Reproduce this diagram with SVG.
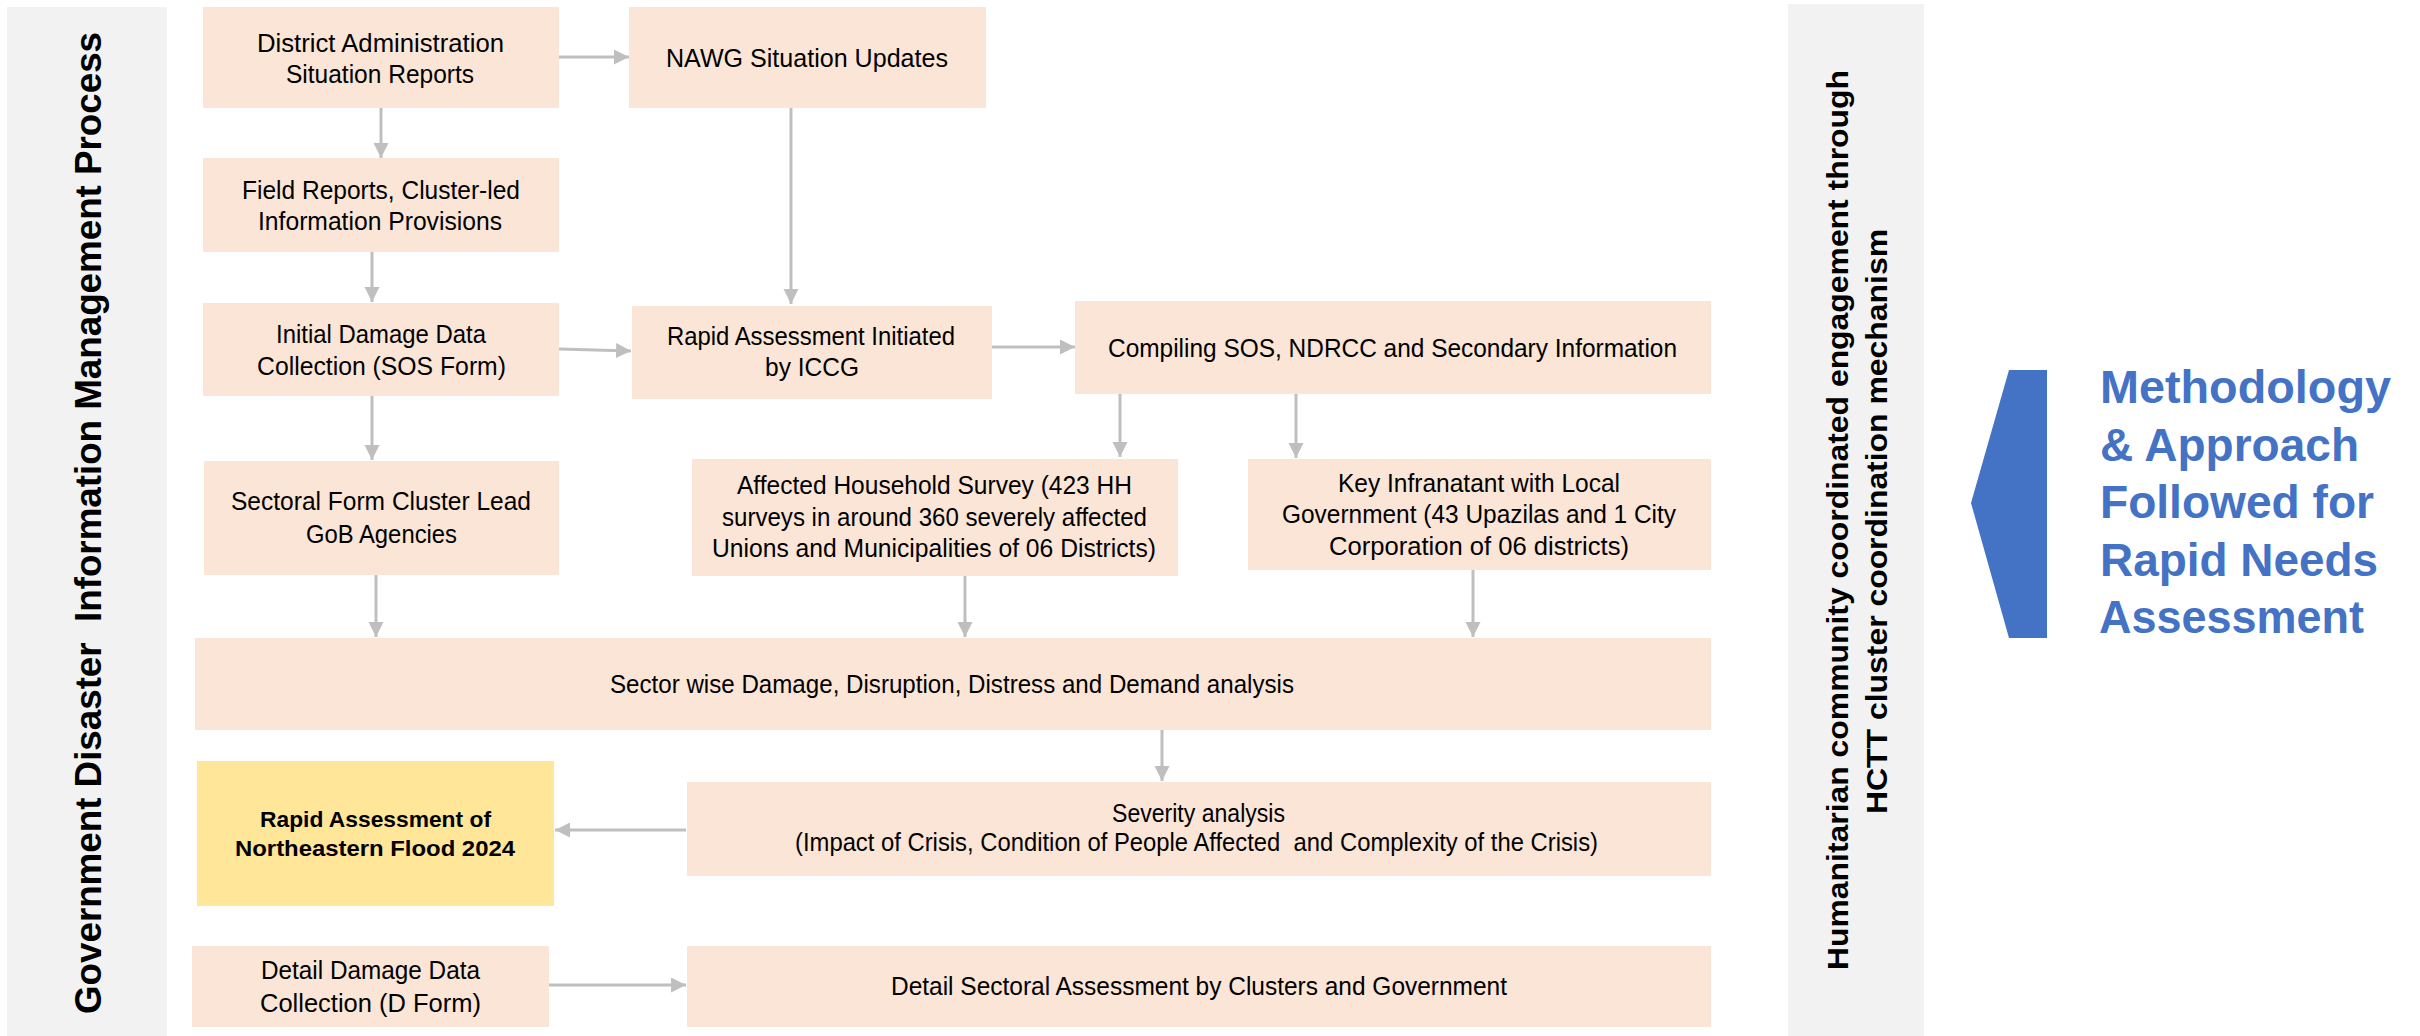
<svg xmlns="http://www.w3.org/2000/svg" width="2420" height="1036" viewBox="0 0 2420 1036">
<style>
.panel{fill:#F2F2F2}
.box{fill:#FBE5D6}
.hl{fill:#FFE699}
.t{font-family:"Liberation Sans",Arial,sans-serif;font-size:25px;fill:#000}
.tb{font-family:"Liberation Sans",Arial,sans-serif;font-size:22px;font-weight:bold;fill:#000}
.side{font-family:"Liberation Sans",Arial,sans-serif;font-weight:bold;fill:#000}
.meth{font-family:"Liberation Sans",Arial,sans-serif;font-size:46px;font-weight:bold;fill:#4472C4}
.conn{stroke:#BFBFBF;stroke-width:3;fill:none;marker-end:url(#arr)}
</style>
<defs>
<marker id="arr" markerUnits="userSpaceOnUse" markerWidth="16" markerHeight="16" refX="15" refY="7.5" orient="auto">
<path d="M0,0 L15,7.5 L0,15 z" fill="#BFBFBF"/>
</marker>
</defs>
<rect width="2420" height="1036" fill="#FFFFFF"/>

<g id="gov-panel">
<rect class="panel" x="7" y="7" width="160" height="1029"/>
<text class="side" font-size="37" xml:space="preserve" transform="translate(101,1014) rotate(-90)" textLength="982" lengthAdjust="spacingAndGlyphs">Government Disaster  Information Management Process</text>
</g>

<g id="hum-panel">
<rect class="panel" x="1788" y="4" width="136" height="1032"/>
<text class="side" font-size="30" transform="translate(1848,970) rotate(-90)" textLength="900" lengthAdjust="spacingAndGlyphs">Humanitarian community coordinated engagement through</text>
<text class="side" font-size="30" transform="translate(1887,814) rotate(-90)" textLength="585" lengthAdjust="spacingAndGlyphs">HCTT cluster coordination mechanism</text>
</g>

<g id="methodology">
<polygon points="2009,370 2047,370 2047,638 2009,638 1971,503" fill="#4472C4"/>
<text class="meth" x="2100" y="403" textLength="291" lengthAdjust="spacingAndGlyphs">Methodology</text>
<text class="meth" x="2100" y="461" textLength="259" lengthAdjust="spacingAndGlyphs">&amp; Approach</text>
<text class="meth" x="2100" y="518" textLength="274" lengthAdjust="spacingAndGlyphs">Followed for</text>
<text class="meth" x="2100" y="576" textLength="278" lengthAdjust="spacingAndGlyphs">Rapid Needs</text>
<text class="meth" x="2099" y="633" textLength="265" lengthAdjust="spacingAndGlyphs">Assessment</text>
</g>

<g id="connectors">
<path class="conn" d="M559,57 L629,57"/>
<path class="conn" d="M381,108 L381,158"/>
<path class="conn" d="M372,252 L372,302"/>
<path class="conn" d="M791,108 L791,304"/>
<path class="conn" d="M559,349 L631,351"/>
<path class="conn" d="M992,347 L1075,347"/>
<path class="conn" d="M372,396 L372,460"/>
<path class="conn" d="M1120,394 L1120,457"/>
<path class="conn" d="M1296,394 L1296,458"/>
<path class="conn" d="M376,575 L376,637"/>
<path class="conn" d="M965,576 L965,637"/>
<path class="conn" d="M1473,570 L1473,637"/>
<path class="conn" d="M1162,730 L1162,781"/>
<path class="conn" d="M686,830 L555,830"/>
<path class="conn" d="M549,985 L686,985"/>
</g>

<g id="district">
<rect class="box" x="203" y="7" width="356" height="101"/>
<text class="t" x="257" y="52" textLength="247" lengthAdjust="spacingAndGlyphs">District Administration</text>
<text class="t" x="286" y="83" textLength="188" lengthAdjust="spacingAndGlyphs">Situation Reports</text>
</g>

<g id="nawg">
<rect class="box" x="629" y="7" width="357" height="101"/>
<text class="t" x="666" y="67" textLength="282" lengthAdjust="spacingAndGlyphs">NAWG Situation Updates</text>
</g>

<g id="field">
<rect class="box" x="203" y="158" width="356" height="94"/>
<text class="t" x="242" y="199" textLength="278" lengthAdjust="spacingAndGlyphs">Field Reports, Cluster-led</text>
<text class="t" x="258" y="230" textLength="244" lengthAdjust="spacingAndGlyphs">Information Provisions</text>
</g>

<g id="initial">
<rect class="box" x="203" y="303" width="356" height="93"/>
<text class="t" x="276" y="343" textLength="210" lengthAdjust="spacingAndGlyphs">Initial Damage Data</text>
<text class="t" x="257" y="375" textLength="249" lengthAdjust="spacingAndGlyphs">Collection (SOS Form)</text>
</g>

<g id="rapid-initiated">
<rect class="box" x="632" y="306" width="360" height="93"/>
<text class="t" x="667" y="345" textLength="288" lengthAdjust="spacingAndGlyphs">Rapid Assessment Initiated</text>
<text class="t" x="765" y="376" textLength="94" lengthAdjust="spacingAndGlyphs">by ICCG</text>
</g>

<g id="compiling">
<rect class="box" x="1075" y="301" width="636" height="93"/>
<text class="t" x="1108" y="357" textLength="569" lengthAdjust="spacingAndGlyphs">Compiling SOS, NDRCC and Secondary Information</text>
</g>

<g id="sectoral">
<rect class="box" x="204" y="461" width="355" height="114"/>
<text class="t" x="231" y="510" textLength="300" lengthAdjust="spacingAndGlyphs">Sectoral Form Cluster Lead</text>
<text class="t" x="306" y="543" textLength="151" lengthAdjust="spacingAndGlyphs">GoB Agencies</text>
</g>

<g id="household">
<rect class="box" x="692" y="459" width="486" height="117"/>
<text class="t" x="737" y="494" textLength="395" lengthAdjust="spacingAndGlyphs">Affected Household Survey (423 HH</text>
<text class="t" x="722" y="526" textLength="425" lengthAdjust="spacingAndGlyphs">surveys in around 360 severely affected</text>
<text class="t" x="712" y="557" textLength="444" lengthAdjust="spacingAndGlyphs">Unions and Municipalities of 06 Districts)</text>
</g>

<g id="key-informant">
<rect class="box" x="1248" y="459" width="463" height="111"/>
<text class="t" x="1338" y="492" textLength="282" lengthAdjust="spacingAndGlyphs">Key Infranatant with Local</text>
<text class="t" x="1282" y="523" textLength="394" lengthAdjust="spacingAndGlyphs">Government (43 Upazilas and 1 City</text>
<text class="t" x="1329" y="555" textLength="300" lengthAdjust="spacingAndGlyphs">Corporation of 06 districts)</text>
</g>

<g id="sector-analysis">
<rect class="box" x="195" y="638" width="1516" height="92"/>
<text class="t" x="610" y="693" textLength="684" lengthAdjust="spacingAndGlyphs">Sector wise Damage, Disruption, Distress and Demand analysis</text>
</g>

<g id="rapid-result">
<rect class="hl" x="197" y="761" width="357" height="145"/>
<text class="tb" x="260" y="827" textLength="231" lengthAdjust="spacingAndGlyphs">Rapid Assessment of</text>
<text class="tb" x="235" y="856" textLength="280" lengthAdjust="spacingAndGlyphs">Northeastern Flood 2024</text>
</g>

<g id="severity">
<rect class="box" x="687" y="782" width="1024" height="94"/>
<text class="t" x="1112" y="822" textLength="173" lengthAdjust="spacingAndGlyphs">Severity analysis</text>
<text class="t" x="795" y="851" xml:space="preserve" textLength="803" lengthAdjust="spacingAndGlyphs">(Impact of Crisis, Condition of People Affected  and Complexity of the Crisis)</text>
</g>

<g id="detail-damage">
<rect class="box" x="192" y="946" width="357" height="81"/>
<text class="t" x="261" y="979" textLength="219" lengthAdjust="spacingAndGlyphs">Detail Damage Data</text>
<text class="t" x="260" y="1012" textLength="221" lengthAdjust="spacingAndGlyphs">Collection (D Form)</text>
</g>

<g id="detail-sectoral">
<rect class="box" x="687" y="946" width="1024" height="81"/>
<text class="t" x="891" y="995" textLength="616" lengthAdjust="spacingAndGlyphs">Detail Sectoral Assessment by Clusters and Government</text>
</g>
</svg>
